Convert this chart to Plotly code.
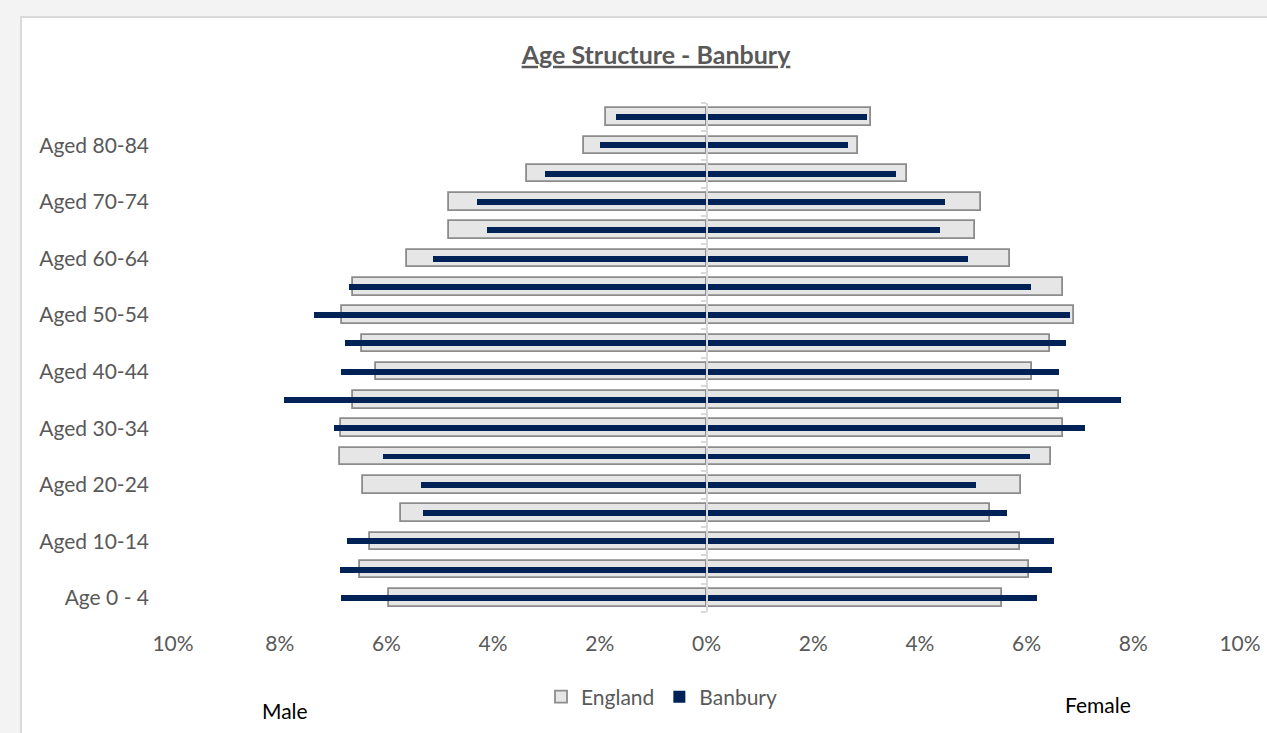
import plotly.graph_objects as go

# ---- data (percent of population), bottom row first ---------------------------
AGE_GROUPS = [
    "Age 0 - 4", "Aged 5-9", "Aged 10-14", "Aged 15-19", "Aged 20-24",
    "Aged 25-29", "Aged 30-34", "Aged 35-39", "Aged 40-44", "Aged 45-49",
    "Aged 50-54", "Aged 55-59", "Aged 60-64", "Aged 65-69", "Aged 70-74",
    "Aged 75-79", "Aged 80-84", "Aged 85+",
]
ENGLAND_MALE = [5.95, 6.49, 6.31, 5.73, 6.43, 6.87, 6.86, 6.63, 6.19, 6.45,
                6.84, 6.63, 5.62, 4.83, 4.82, 3.36, 2.29, 1.89]
ENGLAND_FEMALE = [5.53, 6.04, 5.87, 5.31, 5.89, 6.46, 6.69, 6.61, 6.10, 6.43,
                  6.88, 6.69, 5.69, 5.03, 5.15, 3.76, 2.84, 3.08]
BANBURY_MALE = [6.85, 6.87, 6.73, 5.31, 5.35, 6.07, 6.98, 7.92, 6.85, 6.77,
                7.35, 6.71, 5.12, 4.11, 4.30, 3.02, 2.00, 1.70]
BANBURY_FEMALE = [6.20, 6.48, 6.52, 5.64, 5.05, 6.06, 7.10, 7.77, 6.61, 6.74,
                  6.81, 6.08, 4.91, 4.38, 4.47, 3.55, 2.65, 3.01]
X_TICKS = [-10, -8, -6, -4, -2, 0, 2, 4, 6, 8, 10]
Y_LABELS = AGE_GROUPS[::2]

# ---- style -------------------------------------------------------------------
FONT = "Lato, 'Open Sans', sans-serif"
INK = "#595959"
ENG_FILL = "#e6e6e6"
ENG_EDGE = "#8c8c8c"
NAVY = "#002256"
AXIS = "#d9d9d9"
PAGE = "#f3f3f3"

fig = go.Figure()

# England: wide outlined bars on the main y axis
for vals, sign, show in ((ENGLAND_MALE, -1, True), (ENGLAND_FEMALE, 1, False)):
    fig.add_trace(go.Bar(
        y=AGE_GROUPS, x=[sign * v for v in vals], orientation="h",
        width=0.62, name="England", legendgroup="eng", showlegend=show,
        marker=dict(color=ENG_FILL, line=dict(color=ENG_EDGE, width=1.8)),
        yaxis="y",
    ))

# Banbury: thin navy bars on an overlaid axis that sits at 0%
for vals, sign, show in ((BANBURY_MALE, -1, True), (BANBURY_FEMALE, 1, False)):
    fig.add_trace(go.Bar(
        y=AGE_GROUPS, x=[sign * v for v in vals], orientation="h",
        width=0.21, name="Banbury", legendgroup="ban", showlegend=show,
        marker=dict(color=NAVY, line=dict(width=0)),
        yaxis="y2",
    ))

# plot area: x 173..1240 px, y 103..612 px
W, H = 1267, 733
L, R, T, B = 173, 27, 103, 121
pw, ph = W - L - R, H - T - B


def px_x(p):
    return (p - L) / pw


def px_y(p):
    return (H - B - p) / ph


fig.update_layout(
    width=W, height=H,
    margin=dict(l=L, r=R, t=T, b=B, autoexpand=False),
    paper_bgcolor=PAGE, plot_bgcolor="white",
    barmode="overlay", bargap=0,
    font=dict(family=FONT, color=INK, size=21),
    title=dict(text="<b><u>Age Structure - Banbury</u></b>",
               font=dict(family=FONT, size=25, color=INK),
               xref="container", yref="container",
               x=656 / W, xanchor="center", y=1 - 55 / H, yanchor="middle"),
    xaxis=dict(range=[-10, 10], tickvals=X_TICKS,
               ticktext=[f"{abs(v)}%" for v in X_TICKS], automargin=False,
               showgrid=False, zeroline=False, showline=False, ticks="",
               ticklabelstandoff=17, tickfont=dict(size=21, color=INK)),
    yaxis=dict(categoryorder="array", categoryarray=AGE_GROUPS,
               range=[-0.5, len(AGE_GROUPS) - 0.5], automargin=False,
               tickvals=Y_LABELS, ticktext=Y_LABELS,
               showgrid=False, zeroline=False, showline=False, ticks="",
               ticklabelstandoff=23, tickfont=dict(size=21, color=INK)),
    yaxis2=dict(categoryorder="array", categoryarray=AGE_GROUPS,
                range=[-0.5, len(AGE_GROUPS) - 0.5], automargin=False,
                overlaying="y", anchor="free", position=0.5, side="left",
                showgrid=False, zeroline=False, showticklabels=False,
                showline=True, linecolor=AXIS, linewidth=2,
                ticks="outside", tickson="boundaries", ticklen=5,
                tickcolor=AXIS, tickwidth=1.5),
    legend=dict(orientation="h", x=px_x(662), xanchor="center",
                y=px_y(697), yanchor="middle", bgcolor="rgba(0,0,0,0)",
                font=dict(size=21, color=INK), traceorder="normal",
                itemwidth=30),
    showlegend=True,
)

# white chart area with a thin grey border, as in the spreadsheet export
fig.add_shape(type="rect", xref="paper", yref="paper", layer="below",
              x0=px_x(21), x1=px_x(1290), y0=px_y(760), y1=px_y(17),
              fillcolor="white", line=dict(color=AXIS, width=2))

fig.add_annotation(text="Male", xref="paper", yref="paper",
                   x=px_x(285), y=px_y(710), xanchor="center", yanchor="middle",
                   showarrow=False, font=dict(size=21, color="black", family=FONT))
fig.add_annotation(text="Female", xref="paper", yref="paper",
                   x=px_x(1098), y=px_y(704), xanchor="center", yanchor="middle",
                   showarrow=False, font=dict(size=21, color="black", family=FONT))

# the page has a default 8px body margin; drop it so the figure sits at 0,0
fig.write_html("out.html", config={"displayModeBar": False},
               post_script="document.body.style.margin='0';"
                           "document.body.style.background='%s';" % PAGE)
